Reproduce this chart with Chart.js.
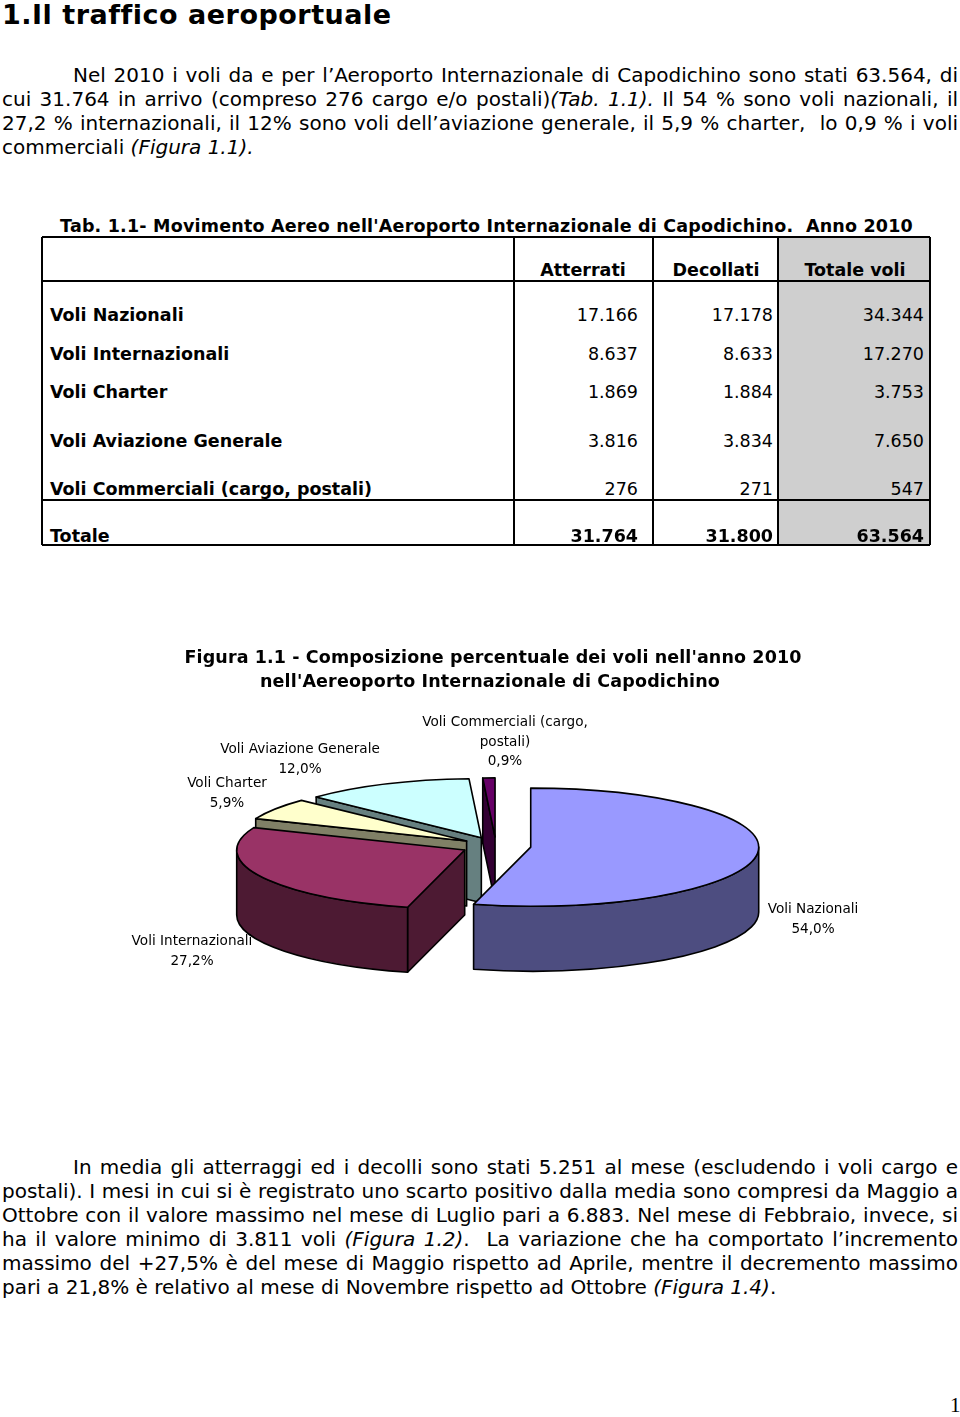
<!DOCTYPE html>
<html><head><meta charset="utf-8">
<script src="https://cdn.jsdelivr.net/npm/chart.js@4.4.1/dist/chart.umd.min.js"></script>
<style>
html,body{margin:0;padding:0;background:#fff;}
body{width:960px;height:1417px;position:relative;overflow:hidden;font-family:"DejaVu Sans",Verdana,sans-serif;color:#000;}
.t{position:absolute;left:0;top:0;white-space:pre;line-height:24px;font-size:20px;}
.h1{font-size:27px;font-weight:bold;line-height:32px;}
.tb{font-size:17.5px;}
.tbb{font-size:17.5px;font-weight:bold;}
.pn{font-family:"Liberation Serif",serif;font-size:21px;}
i{font-style:italic;}
.hl{position:absolute;height:1.5px;background:#000;}
.vl{position:absolute;width:1.5px;background:#000;}
.lab{position:absolute;font-size:13.6px;line-height:19.5px;text-align:center;white-space:normal;}
#pieBox{position:absolute;left:196px;top:546px;width:600px;height:600px;}
</style></head><body>
<div id="shade" style="position:absolute;left:778px;top:237px;width:152px;height:308px;background:#cfcfcf;"></div>
<div id="pieBox"><canvas id="pie" width="600" height="600"></canvas></div>
<script>
// ---- data ----
const categories = ["Voli Nazionali","Voli Internazionali","Voli Charter","Voli Aviazione Generale","Voli Commerciali (cargo, postali)"];
const columnHeaders = ["Atterrati","Decollati","Totale voli"];
const atterrati = [17166, 8637, 1869, 3816, 276];
const decollati = [17178, 8633, 1884, 3834, 271];
const totaleVoli = [34344, 17270, 3753, 7650, 547];
const totali = [31764, 31800, 63564];

// ---- styles ----
const topColors = ["#9999FF","#993366","#FFFFCC","#CCFFFF","#660066"];
const sideColors = ["#4D4D80","#4D1A33","#808066","#668080","#330033"];
const labelLayout = [{x:813,y:909,w:160},{x:192,y:941,w:170},{x:227,y:783,w:120},{x:300,y:749,w:200},{x:505,y:722,w:185}];

function fmt(n){return String(n).replace(/\B(?=(\d{3})+(?!\d))/g,'.');}

function put(html,x,cy,cls,w,mode,anchor){
  const d=document.createElement('div');
  d.className='t '+(cls||'');
  d.innerHTML=html;
  document.body.appendChild(d);
  const lh=parseFloat(getComputedStyle(d).lineHeight);
  d.style.top=(cy-lh/2)+'px';
  let nat=d.getBoundingClientRect().width;
  if(w&&mode==='j'){const n=(d.textContent.match(/ /g)||[]).length; if(n){d.style.wordSpacing=((w-nat)/n)+'px';} nat=w;}
  else if(w&&mode==='s'){const n=d.textContent.length; d.style.letterSpacing=((w-nat)/n)+'px'; nat=w;}
  const left=anchor==='c'?x-nat/2:anchor==='r'?x-nat:x;
  d.style.left=left+'px';
  return d;
}
function hl(x1,x2,y){const d=document.createElement('div');d.className='hl';d.style.left=x1+'px';d.style.width=(x2-x1)+'px';d.style.top=(y-0.75)+'px';document.body.appendChild(d);}
function vl(x,y1,y2){const d=document.createElement('div');d.className='vl';d.style.left=(x-0.75)+'px';d.style.top=y1+'px';d.style.height=(y2-y1)+'px';document.body.appendChild(d);}

// ---- heading & paragraph 1 ----
put("1.Il traffico aeroportuale",2,15,'h1',387,'s','l');
put("Nel 2010 i voli da e per l’Aeroporto Internazionale di Capodichino sono stati "+fmt(totali[2])+", di",73,75,'',885,'j','l');
put("cui "+fmt(totali[0])+" in arrivo (compreso "+atterrati[4]+" cargo e/o postali)<i>(Tab. 1.1).</i> Il 54 % sono voli nazionali, il",2,99,'',956,'j','l');
put("27,2 % internazionali, il 12% sono voli dell’aviazione generale, il 5,9 % charter,  lo 0,9 % i voli",2,123,'',956,'j','l');
put("commerciali <i>(Figura 1.1).</i>",2,147,'',0,'','l');

// ---- table ----
put("Tab. 1.1- Movimento Aereo nell'Aeroporto Internazionale di Capodichino.  Anno 2010",60,226,'tbb',853,'s','l');
const colRight=[638,773,924], colCenter=[583,716,855];
const rowY=[315,354,392,441,489];
columnHeaders.forEach((h,i)=>put(h,colCenter[i],270,'tbb',0,'','c'));
categories.forEach((c,r)=>{
  put(c,50,rowY[r],'tbb',0,'','l');
  put(fmt(atterrati[r]),colRight[0],rowY[r],'tb',0,'','r');
  put(fmt(decollati[r]),colRight[1],rowY[r],'tb',0,'','r');
  put(fmt(totaleVoli[r]),colRight[2],rowY[r],'tb',0,'','r');
});
put("Totale",50,536,'tbb',0,'','l');
totali.forEach((v,i)=>put(fmt(v),colRight[i],536,'tbb',0,'','r'));
hl(42,930,237);hl(42,930,281);hl(42,930,500);hl(42,930,545);
[42,514,653,778,930].forEach(x=>vl(x,237,545));

// ---- figure title ----
put("Figura 1.1 - Composizione percentuale dei voli nell'anno 2010",493,657,'tbb',617,'s','c');
put("nell'Aereoporto Internazionale di Capodichino",490,681,'tbb',460,'s','c');

// ---- paragraph 2 ----
const p2=["In media gli atterraggi ed i decolli sono stati 5.251 al mese (escludendo i voli cargo e",
"postali). I mesi in cui si è registrato uno scarto positivo dalla media sono compresi da Maggio a",
"Ottobre con il valore massimo nel mese di Luglio pari a 6.883. Nel mese di Febbraio, invece, si",
"ha il valore minimo di 3.811 voli <i>(Figura 1.2)</i>.  La variazione che ha comportato l’incremento",
"massimo del +27,5% è del mese di Maggio rispetto ad Aprile, mentre il decremento massimo"];
p2.forEach((s,i)=>put(s,i===0?73:2,1167+24*i,'',i===0?885:956,'j','l'));
put("pari a 21,8% è relativo al mese di Novembre rispetto ad Ottobre <i>(Figura 1.4)</i>.",2,1287,'',0,'','l');
put("1",950,1405,'pn',0,'','l');

// ---- pie labels ----
const total=totaleVoli.reduce((a,b)=>a+b,0);
categories.forEach((c,i)=>{
  const L=labelLayout[i];
  const d=document.createElement('div');
  d.className='lab';
  d.style.width=L.w+'px';
  d.style.left=(L.x-L.w/2)+'px';
  d.style.top=(L.y-9.75)+'px';
  d.innerHTML=c+'<br>'+(totaleVoli[i]/total*100).toFixed(1).replace('.',',')+'%';
  document.body.appendChild(d);
});

// ---- 3D pie plugin ----
const pie3d={
  id:'pie3d',
  beforeDatasetsDraw(chart,args,opts){
    const ctx=chart.ctx, k=opts.tilt, D=opts.depth;
    const meta=chart.getDatasetMeta(0);
    const S=meta.data.map((arc,i)=>{
      const p=arc.getProps(['x','y','startAngle','endAngle','outerRadius'],true);
      const mid=(p.startAngle+p.endAngle)/2, off=arc.options.offset||0;
      return {i,cx:p.x+off*Math.cos(mid),cy:p.y+k*off*Math.sin(mid),a:p.outerRadius,b:p.outerRadius*k,s:p.startAngle,e:p.endAngle,top:arc.options.backgroundColor,side:sideColors[i]};
    });
    ctx.save();
    ctx.lineWidth=1.6;ctx.strokeStyle='#000';ctx.lineJoin='round';
    const faces=[];
    S.forEach(sl=>{
      if(Math.cos(sl.s)<-1e-9) faces.push({sl,ang:sl.s});
      if(Math.cos(sl.e)>1e-9) faces.push({sl,ang:sl.e});
    });
    faces.forEach(f=>{f.key=f.sl.cy+f.sl.b*Math.sin(f.ang)/2;});
    faces.sort((p,q)=>p.key-q.key).forEach(f=>{
      const {cx,cy,a,b}=f.sl, x=cx+a*Math.cos(f.ang), y=cy+b*Math.sin(f.ang);
      ctx.beginPath();ctx.moveTo(cx,cy);ctx.lineTo(x,y);ctx.lineTo(x,y+D);ctx.lineTo(cx,cy+D);ctx.closePath();
      ctx.fillStyle=f.sl.side;ctx.fill();ctx.stroke();
    });
    S.forEach(sl=>{
      [[0,Math.PI],[2*Math.PI,3*Math.PI]].forEach(([r0,r1])=>{
        const lo=Math.max(sl.s,r0), hi=Math.min(sl.e,r1);
        if(hi-lo>1e-6){
          const {cx,cy,a,b}=sl;
          ctx.beginPath();
          ctx.ellipse(cx,cy,a,b,0,lo,hi,false);
          ctx.lineTo(cx+a*Math.cos(hi),cy+b*Math.sin(hi)+D);
          ctx.ellipse(cx,cy+D,a,b,0,hi,lo,true);
          ctx.closePath();
          ctx.fillStyle=sl.side;ctx.fill();ctx.stroke();
        }
      });
    });
    S.forEach(sl=>{
      ctx.beginPath();ctx.moveTo(sl.cx,sl.cy);
      ctx.ellipse(sl.cx,sl.cy,sl.a,sl.b,0,sl.s,sl.e,false);
      ctx.closePath();ctx.fillStyle=sl.top;ctx.fill();ctx.stroke();
    });
    ctx.restore();
    return false;
  }
};

new Chart(document.getElementById('pie'),{
  type:'pie',
  data:{labels:categories,datasets:[{data:totaleVoli,backgroundColor:topColors,borderWidth:0,hoverBorderWidth:0,offset:35,hoverOffset:0}]},
  options:{responsive:false,animation:false,events:[],radius:228,layout:{padding:0},
    plugins:{legend:{display:false},tooltip:{enabled:false},pie3d:{tilt:0.259,depth:65}}},
  plugins:[pie3d]
});
</script>
</body></html>
